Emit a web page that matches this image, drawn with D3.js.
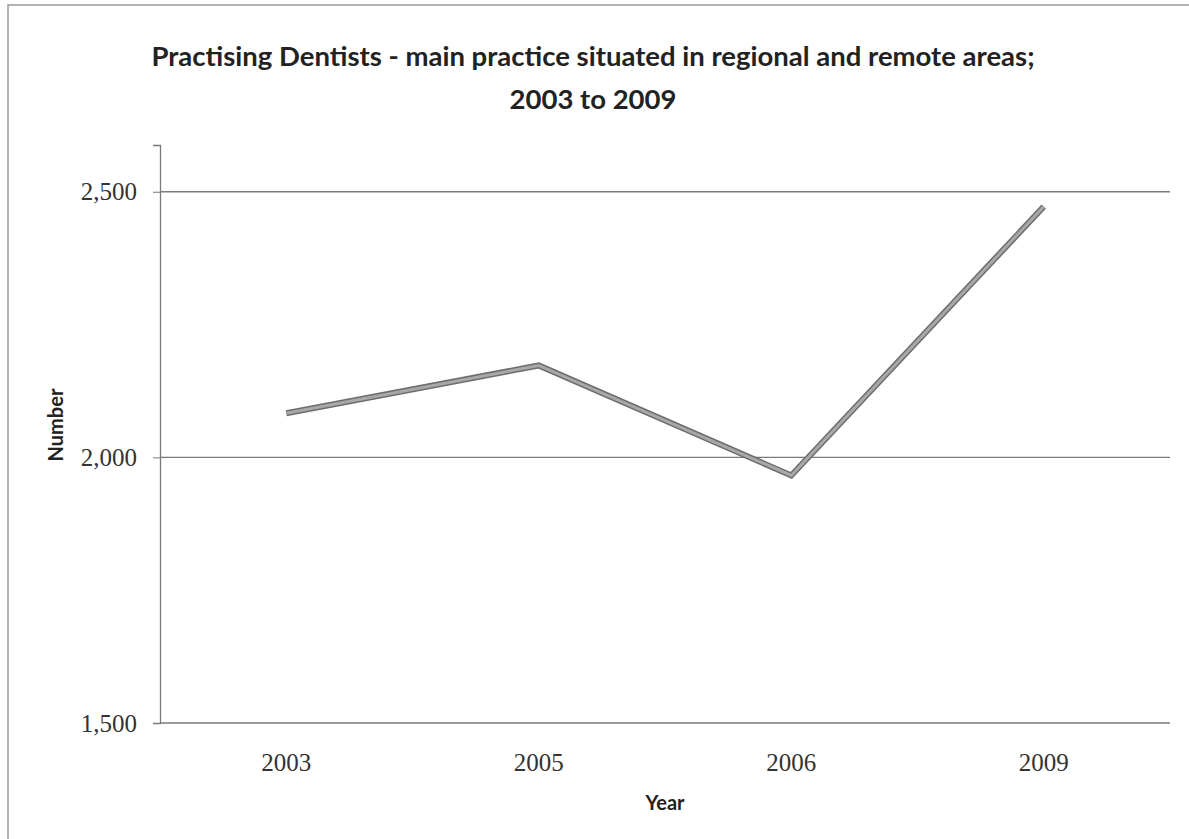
<!DOCTYPE html>
<html>
<head>
  <meta charset="utf-8">
  <title>Practising Dentists</title>
  <script src="https://d3js.org/d3.v7.min.js"></script>
  <style>
    body { margin: 0; background: #fff; }
    svg { display: block; }
  </style>
</head>
<body>
  <div id="chart"></div>

  <script>
    // data
    var years = ['2003', '2005', '2006', '2009'];
    var dentists = [2083, 2173, 1966, 2472];
    var yTicks = [1500, 2000, 2500];

    var W = 1189, H = 839;
    var margin = { top: 145, right: 19, bottom: 116, left: 160 };
    var width = W - margin.left - margin.right;
    var height = H - margin.top - margin.bottom;

    var svg = d3.select('#chart').append('svg')
      .attr('width', W)
      .attr('height', H);

    // outer frame (only top and left edges show in the scan)
    svg.append('path')
      .attr('d', 'M8,' + H + 'V5H' + W)
      .attr('fill', 'none')
      .attr('stroke', '#9a9a9a')
      .attr('stroke-width', 1.5);

    var g = svg.append('g')
      .attr('transform', 'translate(' + margin.left + ',' + margin.top + ')');

    var x = d3.scaleBand()
      .domain(years)
      .range([0, width]);

    var y = d3.scaleLinear()
      .domain([1500, 2588])
      .range([height, 0]);

    // gridlines
    g.selectAll('.grid')
      .data(yTicks)
      .enter()
      .append('line')
      .attr('class', 'grid')
      .attr('x1', 0)
      .attr('x2', width)
      .attr('y1', function(d) { return y(d); })
      .attr('y2', function(d) { return y(d); })
      .attr('stroke', '#7a7a7a')
      .attr('stroke-width', 1.3);

    // y axis
    var yAxis = g.append('g')
      .call(d3.axisLeft(y).tickValues(yTicks).tickSize(7).tickPadding(16)
        .tickFormat(d3.format(',')));
    yAxis.select('.domain').attr('stroke', '#7a7a7a').attr('stroke-width', 1.3);
    yAxis.selectAll('.tick line').attr('stroke', '#7a7a7a');
    yAxis.selectAll('text')
      .attr('fill', '#333')
      .style('font-family', 'Liberation Serif, serif')
      .style('font-size', '25px');

    // x axis labels
    var xAxis = g.append('g')
      .attr('transform', 'translate(0,' + height + ')')
      .call(d3.axisBottom(x).tickSize(0).tickPadding(30));
    xAxis.select('.domain').remove();
    xAxis.selectAll('text')
      .attr('fill', '#333')
      .style('font-family', 'Liberation Serif, serif')
      .style('font-size', '25px');

    // the series
    var line = d3.line()
      .x(function(d, i) { return x(years[i]) + x.bandwidth() / 2; })
      .y(function(d) { return y(d); });

    g.append('path')
      .datum(dentists)
      .attr('fill', 'none')
      .attr('stroke', '#6e6e6e')
      .attr('stroke-width', 6)
      .attr('d', line);
    g.append('path')
      .datum(dentists)
      .attr('fill', 'none')
      .attr('stroke', '#a8a8a8')
      .attr('stroke-width', 3)
      .attr('d', line);

    // titles
    var tx = margin.left + width / 2 - 72;
    var title = svg.append('text')
      .attr('text-anchor', 'middle')
      .attr('fill', '#222')
      .style('font-family', 'Lato, sans-serif')
      .style('font-weight', 'bold')
      .style('font-size', '27.5px');
    title.append('tspan')
      .attr('x', tx)
      .attr('y', 66)
      .text('Practising Dentists - main practice situated in regional and remote areas;');
    title.append('tspan')
      .attr('x', tx)
      .attr('y', 109)
      .text('2003 to 2009');

    svg.append('text')
      .attr('x', margin.left + width / 2)
      .attr('y', 810)
      .attr('text-anchor', 'middle')
      .attr('fill', '#222')
      .style('font-family', 'Lato, sans-serif')
      .style('font-weight', 'bold')
      .style('font-size', '20px')
      .text('Year');

    svg.append('text')
      .attr('transform', 'translate(63,425) rotate(-90)')
      .attr('text-anchor', 'middle')
      .attr('fill', '#222')
      .style('font-family', 'Lato, sans-serif')
      .style('font-weight', 'bold')
      .style('font-size', '20px')
      .text('Number');
  </script>
</body>
</html>
